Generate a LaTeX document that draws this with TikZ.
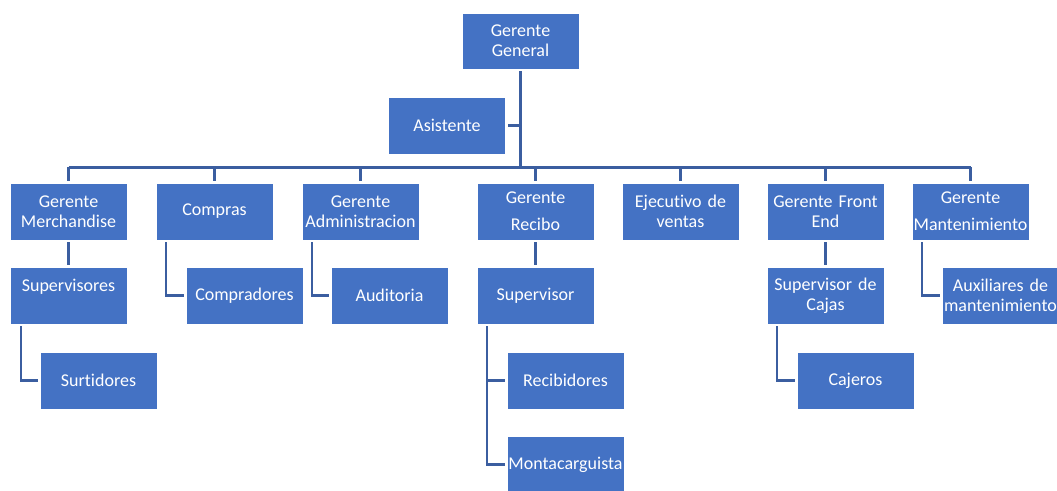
\documentclass[tikz,border=0pt]{standalone}
\usepackage{fontspec}
\setmainfont{Carlito}[Ligatures=NoCommon]
\usetikzlibrary{positioning}
\definecolor{boxblue}{RGB}{68,114,196}
\definecolor{linkblue}{RGB}{59,94,160}

\begin{document}
\begin{tikzpicture}[
box/.style={draw=white,line width=0.4pt,fill=boxblue,text=white,align=center,minimum height=28.5pt,text width=58.5pt,inner xsep=0pt,outer sep=0pt,font=\fontsize{9pt}{10pt}\selectfont},
link/.style={draw=linkblue,line width=1.1pt,shorten <=1.2pt,shorten >=1.2pt}
]
\useasboundingbox (0,0) rectangle (528.5pt,-245.5pt);
\node[box,minimum height=28pt] (gg) at (260.25pt,-20.5pt) {Gerente\\General};
\node[box] (asist) at (223.5pt,-62.75pt) {Asistente};
\node[box] (merch) at (34.25pt,-105.75pt) {Gerente\\Merchandise};
\node[box,right=14.5pt of merch] (compras) {Compras};
\node[box,right=14.5pt of compras] (admin) {Gerente\\Administracion};
\node[box,right=29pt of admin] (recibo) {Gerente\\[3.5pt]Recibo};
\node[box,right=14pt of recibo] (ejec) {Ejecutivo de\\ventas};
\node[box,right=14pt of ejec] (front) {Gerente Front\\End};
\node[box,right=14pt of front] (mant) {Gerente\\[3.5pt]Mantenimiento};
\node[box,below=13.5pt of merch] (superv) {Supervisores\\\mbox{}};
\node[box,below=13.5pt of compras,xshift=15pt] (compradores) {Compradores};
\node[box,below=13.5pt of admin,xshift=14.5pt] (auditoria) {Auditoria};
\node[box,below=13.5pt of recibo] (supervisor) {Supervisor};
\node[box,below=13.5pt of front] (cajas) {Supervisor de\\Cajas};
\node[box,below=13.5pt of mant,xshift=15pt] (auxiliares) {Auxiliares de\\mantenimiento};
\node[box,below=14pt of superv,xshift=15pt] (surtidores) {Surtidores};
\node[box,below=14pt of supervisor,xshift=15pt] (recibidores) {Recibidores};
\node[box,below=14pt of cajas,xshift=15pt] (cajeros) {Cajeros};
\node[box,below=13.5pt of recibidores] (montacarg) {Montacarguista};
\coordinate (bus) at (0pt,-83.75pt);
% trunk and bus
\draw[link,shorten >=0pt] (gg.south) -- (gg.south |- bus);
\draw[link,shorten <=0pt,shorten >=0pt] (merch.north |- bus) -- (mant.north |- bus);
\draw[link,shorten <=0pt] (asist.east -| gg.south) -- (asist.east);
\foreach \n in {merch,compras,admin,recibo,ejec,front,mant}
  \draw[link,shorten <=0pt] (\n.north |- bus) -- (\n.north);
% branches
\draw[link] (merch) -- (superv);
\draw[link] (recibo) -- (supervisor);
\draw[link] (front) -- (cajas);
\draw[link] ([xshift=5pt]compras.south west) |- (compradores.west);
\draw[link] ([xshift=5pt]admin.south west) |- (auditoria.west);
\draw[link] ([xshift=5pt]mant.south west) |- (auxiliares.west);
\draw[link] ([xshift=5.5pt]superv.south west) |- (surtidores.west);
\draw[link] ([xshift=5pt]cajas.south west) |- (cajeros.west);
\draw[link] ([xshift=5pt]supervisor.south west) |- (recibidores.west);
\draw[link] ([xshift=5pt]supervisor.south west) |- (montacarg.west);
\end{tikzpicture}
\end{document}
